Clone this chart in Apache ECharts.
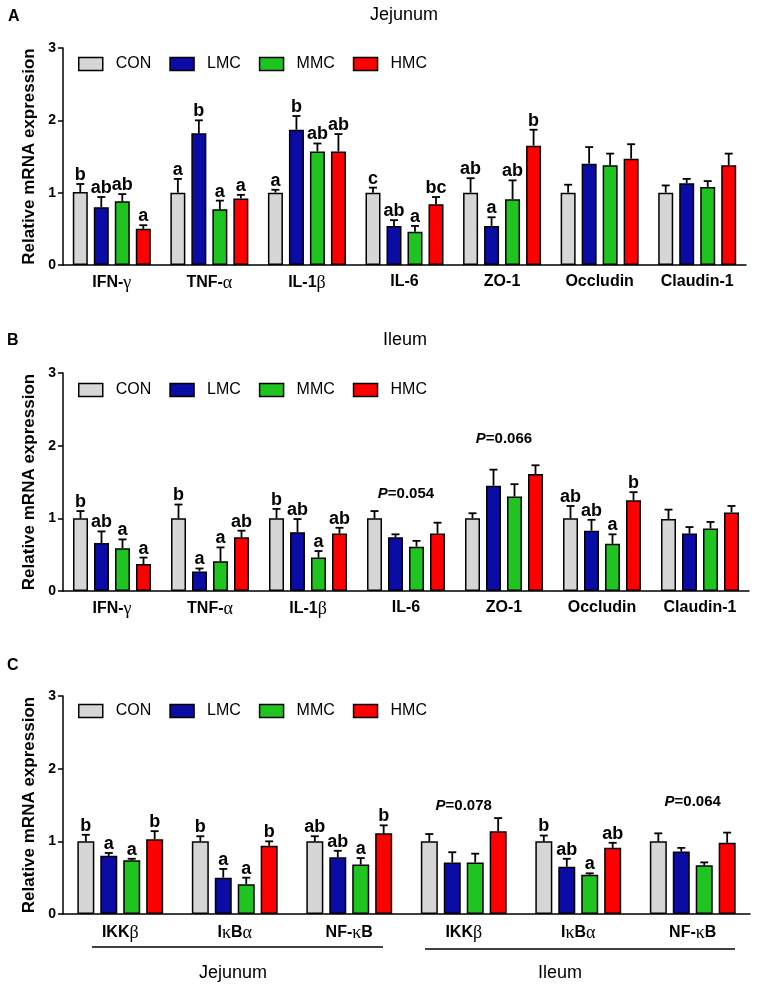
<!DOCTYPE html>
<html>
<head>
<meta charset="utf-8">
<script src="https://cdn.jsdelivr.net/npm/echarts@6/dist/echarts.min.js"></script>
<style>
html, body { margin: 0; background: #fff; }
#main { width: 765px; height: 994px; }
</style>
</head>
<body>
<div id="main"></div>
<script>
// 分组
const groups = ['CON', 'LMC', 'MMC', 'HMC'];
const colors = ['#d6d6d6', '#0b0ba6', '#20c420', '#ff0000'];

// A 空肠
const catsA = ['IFN-γ', 'TNF-α', 'IL-1β', 'IL-6', 'ZO-1', 'Occludin', 'Claudin-1'];
const meanA = [
    [1.01, 1.00, 1.00, 1.00, 1.00, 1.00, 1.00],
    [0.80, 1.82, 1.87, 0.54, 0.54, 1.40, 1.13],
    [0.88, 0.77, 1.57, 0.46, 0.91, 1.38, 1.08],
    [0.50, 0.92, 1.57, 0.84, 1.65, 1.47, 1.38],
];
const semA = [
    [0.11, 0.19, 0.04, 0.07, 0.20, 0.11, 0.10],
    [0.14, 0.18, 0.19, 0.08, 0.12, 0.23, 0.06],
    [0.10, 0.12, 0.11, 0.08, 0.26, 0.16, 0.08],
    [0.05, 0.05, 0.24, 0.10, 0.22, 0.20, 0.16],
];
const letterA = [
    ['b', 'a', 'a', 'c', 'ab', '', ''],
    ['ab', 'b', 'b', 'ab', 'a', '', ''],
    ['ab', 'a', 'ab', 'a', 'ab', '', ''],
    ['a', 'a', 'ab', 'bc', 'b', '', ''],
];

// B 回肠
const catsB = ['IFN-γ', 'TNF-α', 'IL-1β', 'IL-6', 'ZO-1', 'Occludin', 'Claudin-1'];
const meanB = [
    [1.00, 1.00, 1.00, 1.00, 1.00, 1.00, 0.99],
    [0.66, 0.27, 0.81, 0.74, 1.45, 0.83, 0.79],
    [0.59, 0.41, 0.46, 0.61, 1.30, 0.65, 0.86],
    [0.37, 0.74, 0.79, 0.79, 1.61, 1.25, 1.08],
];
const semB = [
    [0.10, 0.19, 0.13, 0.10, 0.07, 0.17, 0.13],
    [0.16, 0.04, 0.18, 0.04, 0.22, 0.15, 0.09],
    [0.12, 0.19, 0.09, 0.08, 0.17, 0.13, 0.09],
    [0.09, 0.09, 0.08, 0.15, 0.12, 0.11, 0.09],
];
const letterB = [
    ['b', 'b', 'b', '', '', 'ab', ''],
    ['ab', 'a', 'ab', '', '', 'ab', ''],
    ['a', 'a', 'a', '', '', 'a', ''],
    ['a', 'ab', 'ab', '', '', 'b', ''],
];
const pCatB = [3, 4];
const pTextB = ['0.054', '0.066'];

// C 炎症通路
const catsC = ['IKKβ', 'IκBα', 'NF-κB', 'IKKβ', 'IκBα', 'NF-κB'];
const meanC = [
    [1.00, 1.00, 1.00, 1.00, 1.00, 1.00],
    [0.80, 0.50, 0.78, 0.71, 0.65, 0.86],
    [0.74, 0.41, 0.68, 0.71, 0.54, 0.67],
    [1.03, 0.94, 1.11, 1.14, 0.91, 0.98],
];
const semC = [
    [0.09, 0.07, 0.07, 0.10, 0.08, 0.11],
    [0.04, 0.12, 0.09, 0.14, 0.11, 0.05],
    [0.02, 0.09, 0.09, 0.12, 0.02, 0.04],
    [0.11, 0.06, 0.11, 0.18, 0.07, 0.14],
];
const letterC = [
    ['b', 'b', 'ab', '', 'b', ''],
    ['a', 'a', 'ab', '', 'ab', ''],
    ['a', 'a', 'a', '', 'a', ''],
    ['b', 'b', 'b', '', 'ab', ''],
];
const pCatC = [3, 5];
const pTextC = ['0.078', '0.064'];

const FONT = "'Liberation Sans', Arial, sans-serif";

// 版面
const panels = [
    {
        cats: catsA, mean: meanA, sem: semA, letters: letterA, pCat: [], pText: [], pY: [],
        grid: { left: 63, top: 48, width: 683, height: 217 },
        barWidth: 15, barGap: 0.4, legendTop: 56, labelMargin: 9,
    },
    {
        cats: catsB, mean: meanB, sem: semB, letters: letterB, pCat: pCatB, pText: pTextB, pY: [1.33, 2.10],
        grid: { left: 63, top: 373, width: 686, height: 218 },
        barWidth: 15, barGap: 0.4, legendTop: 382, labelMargin: 9,
    },
    {
        cats: catsC, mean: meanC, sem: semC, letters: letterC, pCat: pCatC, pText: pTextC, pY: [1.49, 1.54],
        grid: { left: 63, top: 696, width: 687, height: 218 },
        barWidth: 17, barGap: 0.35, legendTop: 703, labelMargin: 10,
    },
];

// 希腊字母用细体
function richLabel(s) {
    return s.replace(/([^\u0370-\u03ff]+)|([\u0370-\u03ff])/g, (m, a, g) => a ? `{b|${ a }}` : `{g|${ g }}`);
}

const grid = [];
const xAxis = [];
const yAxis = [];
const legend = [];
const series = [];

panels.forEach((p, k) => {
    grid.push(p.grid);
    xAxis.push({
        type: 'category',
        gridIndex: k,
        // C 图有重名类目，用序号占位
        data: p.cats.map((c, j) => `${ j }`),
        axisLine: { lineStyle: { color: '#000', width: 1.5 } },
        axisTick: { alignWithLabel: true, length: 5, lineStyle: { color: '#000', width: 1.5 } },
        axisLabel: {
            interval: 0,
            margin: p.labelMargin,
            formatter: (v, j) => richLabel(p.cats[j]),
            rich: {
                b: { fontFamily: FONT, fontWeight: 'bold', fontSize: 16, color: '#000' },
                g: { fontFamily: "'Liberation Serif', serif", fontSize: 18, color: '#000' },
            },
        },
    });
    yAxis.push({
        type: 'value',
        gridIndex: k,
        min: 0,
        max: 3,
        interval: 1,
        name: 'Relative mRNA expression',
        nameLocation: 'middle',
        nameGap: 25,
        nameTextStyle: { fontFamily: FONT, fontWeight: 'bold', fontSize: 17, color: '#000' },
        splitLine: { show: false },
        axisLine: { show: true, lineStyle: { color: '#000', width: 1.5 } },
        axisTick: { show: true, length: 5, lineStyle: { color: '#000', width: 1.5 } },
        axisLabel: { margin: 7, fontFamily: FONT, fontWeight: 'bold', fontSize: 14, color: '#000' },
    });
    legend.push({
        data: groups,
        left: 78,
        top: p.legendTop,
        padding: 0,
        icon: 'rect',
        itemWidth: 24,
        itemHeight: 13,
        itemGap: 18,
        selectedMode: false,
        itemStyle: { borderColor: '#000', borderWidth: 1.5 },
        textStyle: { fontFamily: FONT, fontSize: 16, lineHeight: 16, color: '#000', padding: [0, 0, 0, 8] },
    });

    groups.forEach((g, i) => {
        series.push({
            name: g,
            type: 'bar',
            xAxisIndex: k,
            yAxisIndex: k,
            data: p.mean[i],
            barWidth: p.barWidth,
            barGap: `${ p.barGap * 100 }%`,
            itemStyle: { color: colors[i], borderColor: '#000', borderWidth: 1.5 },
            emphasis: { disabled: true },
        });
        // 误差线 + 显著性字母
        series.push({
            type: 'custom',
            xAxisIndex: k,
            yAxisIndex: k,
            z: 3,
            silent: true,
            data: p.mean[i].map((m, j) => [j, m, p.sem[i][j]]),
            renderItem: (params, api) => {
                const off = (i - 1.5) * p.barWidth * (1 + p.barGap);
                const cat = api.value(0);
                const base = api.coord([cat, api.value(1)]);
                const top = api.coord([cat, api.value(1) + api.value(2)])[1];
                const cx = base[0] + off;
                const line = { stroke: '#000', lineWidth: 1.8 };
                return {
                    type: 'group',
                    children: [
                        { type: 'line', shape: { x1: cx, y1: base[1], x2: cx, y2: top }, style: line },
                        { type: 'line', shape: { x1: cx - 4, y1: top, x2: cx + 4, y2: top }, style: line },
                        {
                            type: 'text',
                            x: cx,
                            y: top,
                            style: {
                                text: p.letters[i][params.dataIndex],
                                align: 'center',
                                verticalAlign: 'bottom',
                                fontFamily: FONT,
                                fontWeight: 'bold',
                                fontSize: 18,
                                fill: '#000',
                            },
                        },
                    ],
                };
            },
        });
    });

    // P 值注释
    if (p.pCat.length) {
        series.push({
            type: 'custom',
            xAxisIndex: k,
            yAxisIndex: k,
            silent: true,
            data: p.pCat.map((c, j) => [c, p.pY[j]]),
            renderItem: (params, api) => {
                const pt = api.coord([api.value(0), api.value(1)]);
                return {
                    type: 'text',
                    x: pt[0],
                    y: pt[1],
                    style: {
                        text: `{i|P}{b|=${ p.pText[params.dataIndex] }}`,
                        align: 'center',
                        verticalAlign: 'middle',
                        rich: {
                            i: { fontFamily: FONT, fontWeight: 'bold', fontStyle: 'italic', fontSize: 15, fill: '#000' },
                            b: { fontFamily: FONT, fontWeight: 'bold', fontSize: 15, fill: '#000' },
                        },
                    },
                };
            },
        });
    }
});

const txt = (text, x, y, size, weight, align) => ({
    type: 'text',
    x, y,
    style: { text, fontFamily: FONT, fontSize: size, fontWeight: weight, fill: '#000', align: align || 'center', verticalAlign: 'middle' },
});

const chart = echarts.init(document.getElementById('main'));
chart.setOption({
    animation: false,
    grid,
    xAxis,
    yAxis,
    legend,
    series,
    graphic: [
        txt('A', 8, 17, 16, 'bold', 'left'),
        txt('B', 7, 341, 16, 'bold', 'left'),
        txt('C', 7, 666, 16, 'bold', 'left'),
        txt('Jejunum', 404, 15, 18, 'normal'),
        txt('Ileum', 405, 340, 18, 'normal'),
        { type: 'line', shape: { x1: 92, y1: 947, x2: 383, y2: 947 }, style: { stroke: '#000', lineWidth: 1.5 } },
        { type: 'line', shape: { x1: 425, y1: 949, x2: 735, y2: 949 }, style: { stroke: '#000', lineWidth: 1.5 } },
        txt('Jejunum', 233, 973, 18, 'normal'),
        txt('Ileum', 560, 973, 18, 'normal'),
    ],
});
</script>
</body>
</html>
